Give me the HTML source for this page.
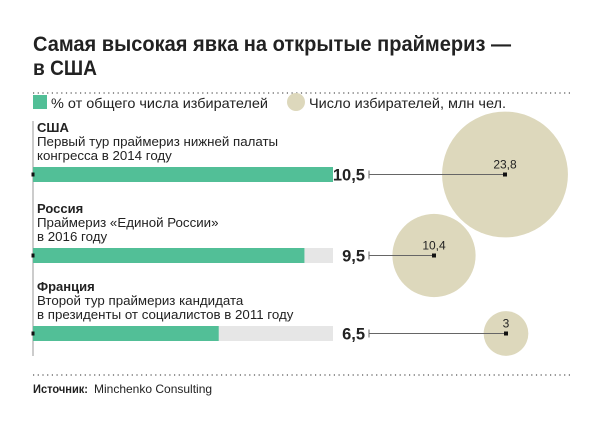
<!DOCTYPE html>
<html><head><meta charset="utf-8"><style>
body{margin:0;background:#fff;}
svg{display:block;font-family:"Liberation Sans","DejaVu Sans",sans-serif;}
</style></head><body>
<svg id="chart" width="600" height="428" viewBox="0 0 600 428">
<rect width="600" height="428" fill="#fff"/>
<text x="33" y="51" font-size="21" font-weight="bold" fill="#222" textLength="478" lengthAdjust="spacingAndGlyphs">Самая высокая явка на открытые праймериз —</text>
<text x="33" y="75" font-size="21" font-weight="bold" fill="#222" textLength="64" lengthAdjust="spacingAndGlyphs">в США</text>
<line x1="33" y1="93" x2="572" y2="93" stroke="#555" stroke-width="1.2" stroke-dasharray="1.2,3.5"/>
<rect x="33" y="95" width="14" height="14" fill="#52bf97"/>
<text x="51" y="108" font-size="14" fill="#222" textLength="217" lengthAdjust="spacingAndGlyphs">% от общего числа избирателей</text>
<circle cx="296" cy="102" r="9" fill="#ddd8bc"/>
<text x="309" y="108" font-size="14" fill="#222" textLength="197" lengthAdjust="spacingAndGlyphs">Число избирателей, млн чел.</text>
<line x1="33" y1="121" x2="33" y2="356" stroke="#999" stroke-width="1"/>
<g id="rows"></g>
<line x1="33" y1="375" x2="572" y2="375" stroke="#555" stroke-width="1.2" stroke-dasharray="1.2,3.5"/>
<text x="33" y="393" font-size="12" font-weight="bold" fill="#222" textLength="55" lengthAdjust="spacingAndGlyphs">Источник:</text>
<text x="94" y="393" font-size="12" fill="#222">Minchenko Consulting</text>
</svg>
<script>
const countries = ["США","Россия","Франция"];
const descLine1 = ["Первый тур праймериз нижней палаты","Праймериз «Единой России»","Второй тур праймериз кандидата"];
const descLine2 = ["конгресса в 2014 году","в 2016 году","в президенты от социалистов в 2011 году"];
const percents = [10.5, 9.5, 6.5];
const voters = [23.8, 10.4, 3];
const voterLabels = ["23,8","10,4","3"];
const percentLabels = ["10,5","9,5","6,5"];

const NS="http://www.w3.org/2000/svg";
const g=document.getElementById('rows');
const x0=33, barW=300, maxP=10.5;
const xScale=v=>x0+barW*v/maxP;
const rScale=v=>12.9*Math.sqrt(v);
const bubbleX=[505,434,506];
function mk(tag,attrs,text){const e=document.createElementNS(NS,tag);for(const k in attrs)e.setAttribute(k,attrs[k]);if(text!==undefined)e.textContent=text;g.appendChild(e);return e;}
percents.forEach((p,i)=>{
  const top=[132,213,291][i];
  const by=top+35;
  const cy=by+7.5;
  const c=mk('circle',{cx:bubbleX[i],cy:cy,r:rScale(voters[i]),fill:'#ddd8bc'});
  
  
  const t1=mk('text',{x:37,y:top,'font-size':13,'font-weight':'bold',fill:'#222'},countries[i]);
  
  
  const t2=mk('text',{x:37,y:top+14,'font-size':13.3,fill:'#222'},descLine1[i]);
  
  
  const t3=mk('text',{x:37,y:top+28,'font-size':13.3,fill:'#222'},descLine2[i]);
  
  
  const bg=mk('rect',{x:x0,y:by,width:barW,height:15,fill:'#e6e6e6'});
  
  
  const b=mk('rect',{x:x0,y:by,width:xScale(p)-x0,height:15,fill:'#52bf97'});
  
  
  const d=mk('rect',{x:x0-1.5,y:cy-2,width:3,height:4,fill:'#111'});
  
  
  const v=mk('text',{x:365,y:cy+6,'font-size':16.5,'font-weight':'bold','text-anchor':'end',fill:'#222'},percentLabels[i]);
  
  
  const l=mk('line',{x1:369,y1:cy,x2:bubbleX[i],y2:cy,stroke:'#666','stroke-width':1});
  
  
  const tk=mk('line',{x1:369,y1:cy-4,x2:369,y2:cy+4,stroke:'#666','stroke-width':1});
  
  
  const cd=mk('rect',{x:bubbleX[i]-2,y:cy-2,width:4,height:4,fill:'#111'});
  
  
  const bl=mk('text',{x:bubbleX[i],y:cy-6,'font-size':12,'text-anchor':'middle',fill:'#222'},voterLabels[i]);
  
  
});
</script>
</body></html>
